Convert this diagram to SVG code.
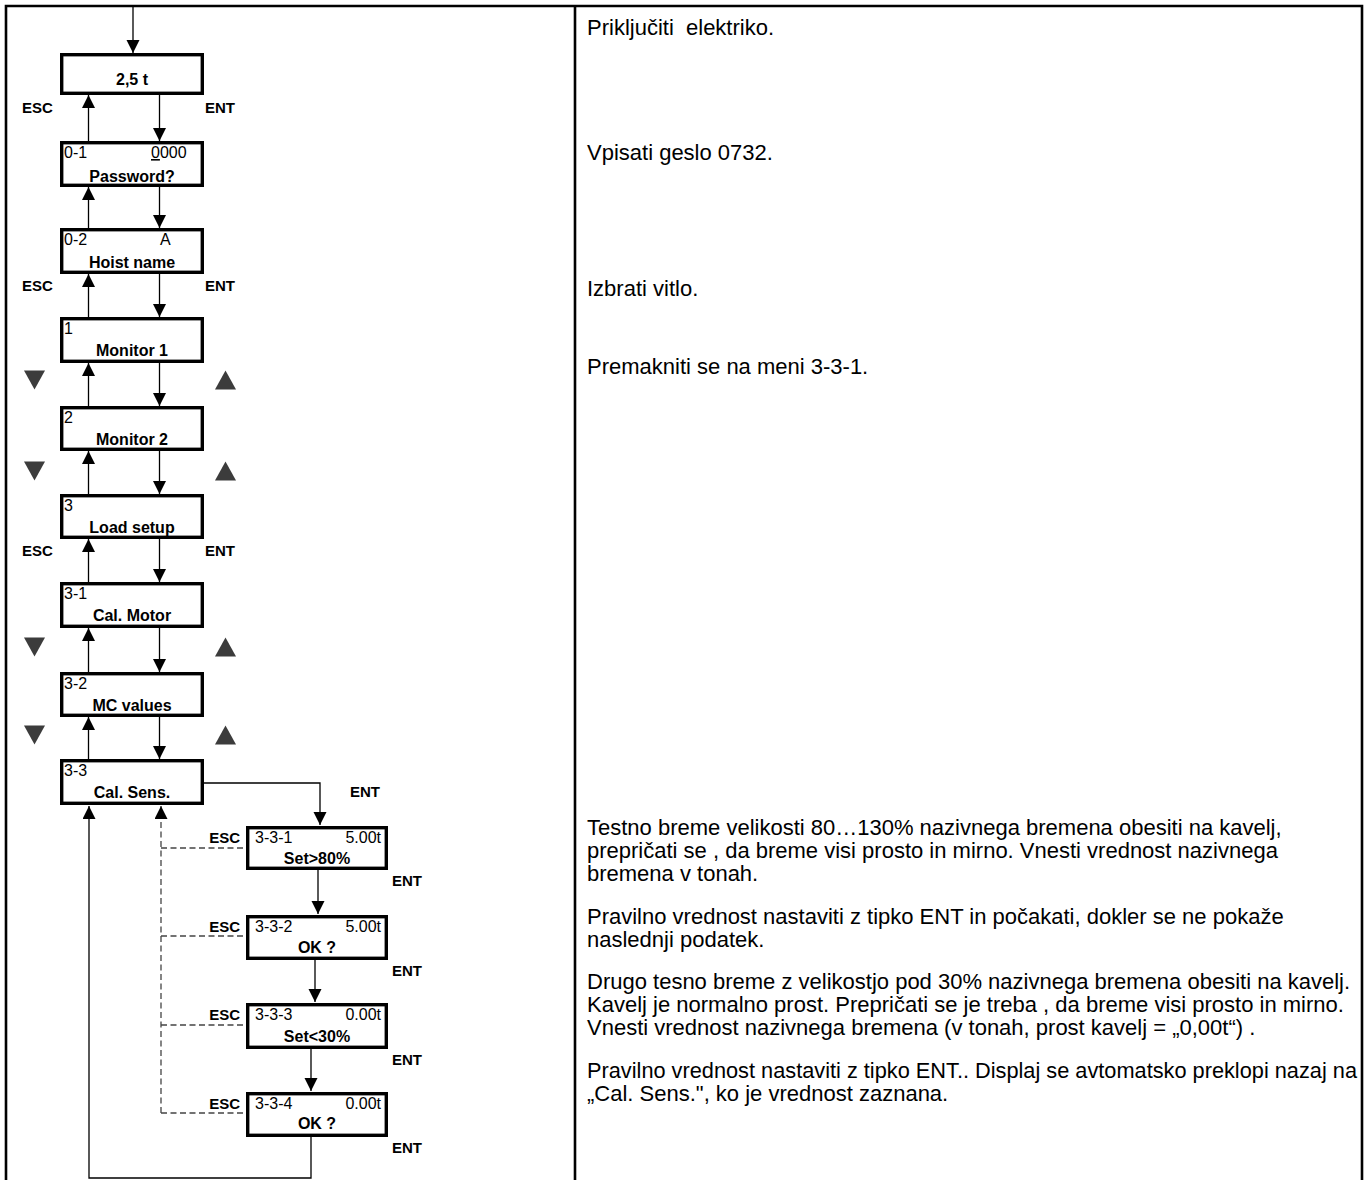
<svg xmlns="http://www.w3.org/2000/svg" width="1366" height="1180" viewBox="0 0 1366 1180">
<defs>
<marker id="ah" markerUnits="userSpaceOnUse" markerWidth="14" markerHeight="14" refX="13" refY="6.5" orient="auto">
<path d="M0,0 L13,6.5 L0,13 z" fill="#000"/>
</marker>
<style>
.frame{fill:none;stroke:#000;stroke-width:2.6}
.box{fill:#fff;stroke:#000;stroke-width:3.4}
.c{fill:none;stroke:#000;stroke-width:1.3}
.cd{fill:none;stroke:#444;stroke-width:1.3;stroke-dasharray:6 3.5}
.lab{font-family:"Liberation Sans",Arial,sans-serif;font-size:16px;fill:#000}
.main{font-family:"Liberation Sans",Arial,sans-serif;font-size:16px;font-weight:bold;fill:#000;text-anchor:middle}
.key{font-family:"Liberation Sans",Arial,sans-serif;font-size:15px;font-weight:bold;fill:#000}
.tri{fill:#3c3c3c}
.desc{font-family:"Liberation Sans",Arial,sans-serif;font-size:22px;fill:#000}
</style>
</defs>
<rect width="1366" height="1180" fill="#fff"/>
<g id="frame">
<path class="frame" d="M6,1180 V6 H1362 V1180 M575,6 V1180"/>
</g>

<g id="connectors">
<path class="c" d="M133,7 V53" marker-end="url(#ah)"/>
<path class="c" d="M159.5,95 V141" marker-end="url(#ah)"/>
<path class="c" d="M88.5,141 V95" marker-end="url(#ah)"/>
<path class="c" d="M159.5,187 V228" marker-end="url(#ah)"/>
<path class="c" d="M88.5,228 V187" marker-end="url(#ah)"/>
<path class="c" d="M159.5,274 V317" marker-end="url(#ah)"/>
<path class="c" d="M88.5,317 V274" stroke-width="2.6" marker-end="url(#ah)"/>
<path class="c" d="M159.5,363 V406" marker-end="url(#ah)"/>
<path class="c" d="M88.5,406 V363" marker-end="url(#ah)"/>
<path class="c" d="M159.5,451 V494" marker-end="url(#ah)"/>
<path class="c" d="M88.5,494 V451" marker-end="url(#ah)"/>
<path class="c" d="M159.5,539 V582" marker-end="url(#ah)"/>
<path class="c" d="M88.5,582 V539" marker-end="url(#ah)"/>
<path class="c" d="M159.5,628 V672" marker-end="url(#ah)"/>
<path class="c" d="M88.5,672 V628" marker-end="url(#ah)"/>
<path class="c" d="M159.5,717 V759" marker-end="url(#ah)"/>
<path class="c" d="M88.5,759 V717" marker-end="url(#ah)"/>
<path class="c" d="M204,783 H320 V825" marker-end="url(#ah)"/>
<path class="c" d="M318,870 V914" marker-end="url(#ah)"/>
<path class="c" d="M315,960 V1002" marker-end="url(#ah)"/>
<path class="c" d="M311,1049 V1091" marker-end="url(#ah)"/>
<path class="c" d="M311,1137 V1178 H89 V806" marker-end="url(#ah)"/>
<path class="cd" d="M161,1113 V806" marker-end="url(#ah)"/>
<path class="cd" d="M161,848 H245 M161,936 H245 M161,1025 H245 M161,1113 H245"/>
</g>

<g id="keys">
<text class="key" x="22" y="113">ESC</text>
<text class="key" x="205" y="113">ENT</text>
<text class="key" x="22" y="291">ESC</text>
<text class="key" x="205" y="291">ENT</text>
<text class="key" x="22" y="556">ESC</text>
<text class="key" x="205" y="556">ENT</text>
<text class="key" x="350" y="797">ENT</text>
<text class="key" x="240" y="843" text-anchor="end">ESC</text>
<text class="key" x="240" y="932" text-anchor="end">ESC</text>
<text class="key" x="240" y="1020" text-anchor="end">ESC</text>
<text class="key" x="240" y="1109" text-anchor="end">ESC</text>
<text class="key" x="392" y="886">ENT</text>
<text class="key" x="392" y="976">ENT</text>
<text class="key" x="392" y="1065">ENT</text>
<text class="key" x="392" y="1153">ENT</text>
</g>

<g id="triangles">
<polygon class="tri" points="24,370.5 45,370.5 34.5,389.5"/>
<polygon class="tri" points="215,389.5 236,389.5 225.5,370.5"/>
<polygon class="tri" points="24,461.5 45,461.5 34.5,480.5"/>
<polygon class="tri" points="215,480.5 236,480.5 225.5,461.5"/>
<polygon class="tri" points="24,637.5 45,637.5 34.5,656.5"/>
<polygon class="tri" points="215,656.5 236,656.5 225.5,637.5"/>
<polygon class="tri" points="24,725.5 45,725.5 34.5,744.5"/>
<polygon class="tri" points="215,744.5 236,744.5 225.5,725.5"/>
</g>

<g id="n-start">
<rect class="box" x="61.7" y="54.7" width="140.6" height="38.6"/>
<text class="main" x="132" y="85" font-size="19">2,5 t</text>
</g>
<g id="n-0-1">
<rect class="box" x="61.7" y="142.7" width="140.6" height="42.6"/>
<text class="lab" x="64" y="158">0-1</text>
<text class="lab" x="151" y="158"><tspan text-decoration="underline">0</tspan>000</text>
<text class="main" x="132" y="182">Password?</text>
</g>
<g id="n-0-2">
<rect class="box" x="61.7" y="229.7" width="140.6" height="42.6"/>
<text class="lab" x="64" y="245">0-2</text>
<text class="lab" x="160" y="245">A</text>
<text class="main" x="132" y="268">Hoist name</text>
</g>
<g id="n-1">
<rect class="box" x="61.7" y="318.7" width="140.6" height="42.6"/>
<text class="lab" x="64" y="334">1</text>
<text class="main" x="132" y="356">Monitor 1</text>
</g>
<g id="n-2">
<rect class="box" x="61.7" y="407.7" width="140.6" height="41.6"/>
<text class="lab" x="64" y="423">2</text>
<text class="main" x="132" y="445">Monitor 2</text>
</g>
<g id="n-3">
<rect class="box" x="61.7" y="495.7" width="140.6" height="41.6"/>
<text class="lab" x="64" y="511">3</text>
<text class="main" x="132" y="533">Load setup</text>
</g>
<g id="n-3-1">
<rect class="box" x="61.7" y="583.7" width="140.6" height="42.6"/>
<text class="lab" x="64" y="599">3-1</text>
<text class="main" x="132" y="621">Cal. Motor</text>
</g>
<g id="n-3-2">
<rect class="box" x="61.7" y="673.7" width="140.6" height="41.6"/>
<text class="lab" x="64" y="689">3-2</text>
<text class="main" x="132" y="711">MC values</text>
</g>
<g id="n-3-3">
<rect class="box" x="61.7" y="760.7" width="140.6" height="42.6"/>
<text class="lab" x="64" y="776">3-3</text>
<text class="main" x="132" y="798">Cal. Sens.</text>
</g>
<g id="n-3-3-1">
<rect class="box" x="247.7" y="827.7" width="138.6" height="40.6"/>
<text class="lab" x="255" y="843">3-3-1</text>
<text class="lab" x="381" y="843" text-anchor="end">5.00t</text>
<text class="main" x="317" y="864">Set&gt;80%</text>
</g>
<g id="n-3-3-2">
<rect class="box" x="247.7" y="916.7" width="138.6" height="41.6"/>
<text class="lab" x="255" y="932">3-3-2</text>
<text class="lab" x="381" y="932" text-anchor="end">5.00t</text>
<text class="main" x="317" y="953">OK ?</text>
</g>
<g id="n-3-3-3">
<rect class="box" x="247.7" y="1004.7" width="138.6" height="42.6"/>
<text class="lab" x="255" y="1020">3-3-3</text>
<text class="lab" x="381" y="1020" text-anchor="end">0.00t</text>
<text class="main" x="317" y="1042">Set&lt;30%</text>
</g>
<g id="n-3-3-4">
<rect class="box" x="247.7" y="1093.7" width="138.6" height="41.6"/>
<text class="lab" x="255" y="1109">3-3-4</text>
<text class="lab" x="381" y="1109" text-anchor="end">0.00t</text>
<text class="main" x="317" y="1129">OK ?</text>
</g>

<g id="descriptions">
<text class="desc" x="587" y="35" xml:space="preserve">Priključiti  elektriko.</text>
<text class="desc" x="587" y="160">Vpisati geslo 0732.</text>
<text class="desc" x="587" y="296">Izbrati vitlo.</text>
<text class="desc" x="587" y="374">Premakniti se na meni 3-3-1.</text>
<text class="desc" x="587" y="835">Testno breme velikosti 80…130% nazivnega bremena obesiti na kavelj,</text>
<text class="desc" x="587" y="858">prepričati se , da breme visi prosto in mirno. Vnesti vrednost nazivnega</text>
<text class="desc" x="587" y="881">bremena v tonah.</text>
<text class="desc" x="587" y="924">Pravilno vrednost nastaviti z tipko ENT in počakati, dokler se ne pokaže</text>
<text class="desc" x="587" y="947">naslednji podatek.</text>
<text class="desc" x="587" y="989">Drugo tesno breme z velikostjo pod 30% nazivnega bremena obesiti na kavelj.</text>
<text class="desc" x="587" y="1012">Kavelj je normalno prost. Prepričati se je treba , da breme visi prosto in mirno.</text>
<text class="desc" x="587" y="1035">Vnesti vrednost nazivnega bremena (v tonah, prost kavelj = „0,00t“) .</text>
<text class="desc" x="587" y="1078" textLength="770" lengthAdjust="spacingAndGlyphs">Pravilno vrednost nastaviti z tipko ENT.. Displaj se avtomatsko preklopi nazaj na</text>
<text class="desc" x="587" y="1101">„Cal. Sens.", ko je vrednost zaznana.</text>
</g>
</svg>
